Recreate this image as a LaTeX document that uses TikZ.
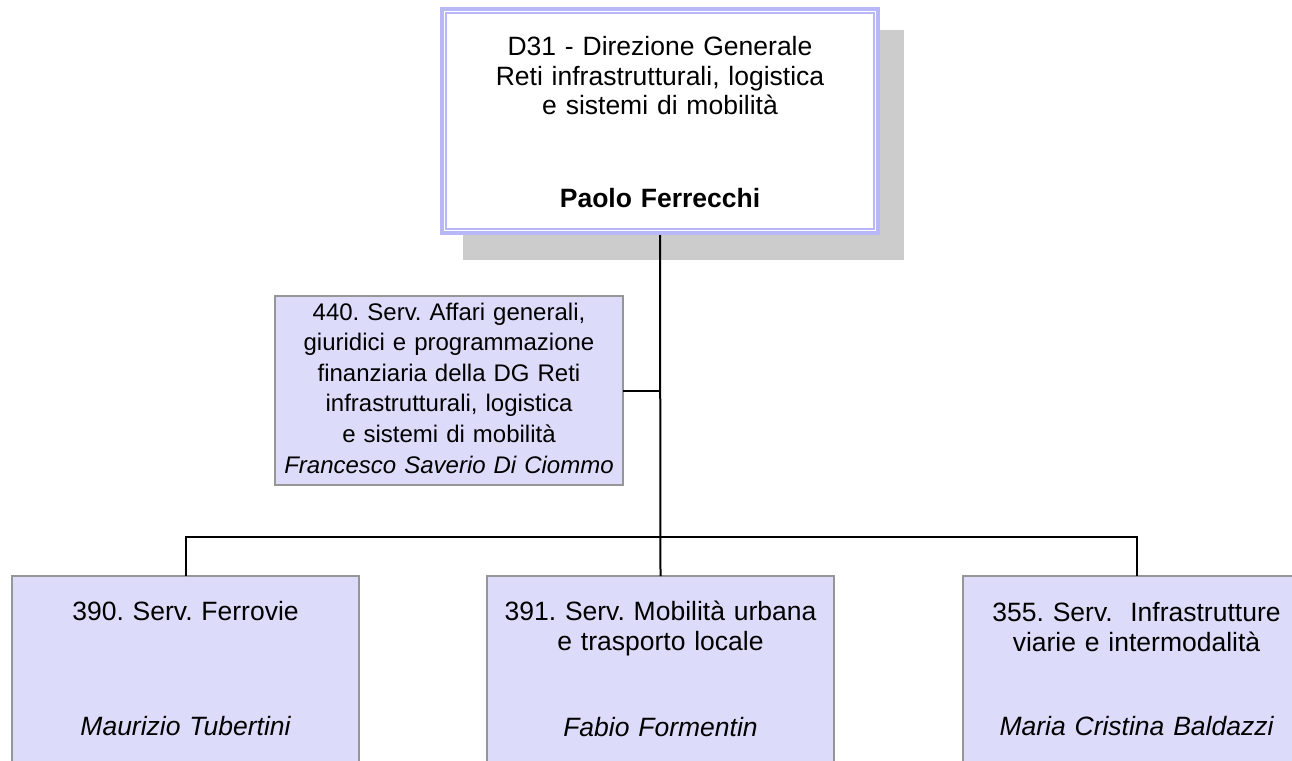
\documentclass[tikz,border=0pt]{standalone}
\usepackage{fontspec}
\setmainfont{Liberation Sans}
\frenchspacing
\definecolor{lav}{RGB}{184,184,248}
\definecolor{boxfill}{RGB}{220,220,250}
\definecolor{boxline}{RGB}{150,150,150}
\definecolor{shadowgray}{RGB}{204,204,204}
\begin{document}
\begin{tikzpicture}[x=1pt,y=-1pt,
  unit/.style={draw=boxline, line width=1.5pt, fill=boxfill, outer sep=0pt, inner sep=0pt},
  bottomunit/.style={unit, minimum width=347pt, minimum height=250pt, anchor=north},
  conn/.style={line width=2pt, draw=black},
  bigtxt/.style={font=\fontsize{26.5}{29.5}\selectfont\frenchspacing, text width=420pt, align=center, anchor=base, inner sep=0pt},
  bottomtxt/.style={bigtxt, font=\fontsize{26.5}{30.5}\selectfont\frenchspacing},
  bigname/.style={bigtxt, font=\fontsize{26.5}{29.5}\selectfont\itshape},
  smalltxt/.style={font=\fontsize{24}{30.6}\selectfont\frenchspacing, text width=346pt, align=center, anchor=base, inner sep=0pt}
]
\useasboundingbox (0,0) rectangle (1292,760);
% shadow of the top box
\fill[shadowgray] (463,30) rectangle (904,260);
% top box
\node[draw=lav, line width=4pt, fill=white, minimum width=436pt, minimum height=224pt, outer sep=2pt, inner sep=0pt] (top) at (660,121) {};
\draw[lav, line width=2pt] ([shift={(6.3,6.3)}]top.north west) rectangle ([shift={(-6.3,-6.3)}]top.south east);
\node[bigtxt] (ttop) at (660,56) {D31 - Direzione Generale\\Reti infrastrutturali, logistica\\e sistemi di mobilità};
\node[bigtxt, font=\fontsize{26.5}{29.5}\selectfont\bfseries] (ntop) at (660,207) {Paolo Ferrecchi};
% staff box
\node[unit, minimum width=348pt, minimum height=189pt] (b440) at (449,390.5) {};
\node[smalltxt] (t440) at (449,320) {440. Serv. Affari generali,\\giuridici e programmazione\\finanziaria della DG Reti\\infrastrutturali, logistica\\e sistemi di mobilità\\\textit{Francesco Saverio Di Ciommo}};
% bottom boxes
\node[bottomunit] (b390) at (185.5,576) {};
\node[bottomunit] (b391) at (660.5,576) {};
\node[bottomunit] (b355) at (1136.5,576) {};
\node[bottomtxt] (t390) at (185.5,620) {390. Serv. Ferrovie};
\node[bottomtxt] (t391) at (660.5,620) {391. Serv. Mobilità urbana\\e trasporto locale};
\node[bottomtxt] (t355) at (1136.5,621) {355. Serv.~~Infrastrutture\\viarie e intermodalità};
\node[bigname] (n390) at (185.5,735) {Maurizio Tubertini};
\node[bigname] (n391) at (660.5,736) {Fabio Formentin};
\node[bigname] (n355) at (1136.5,735) {Maria Cristina Baldazzi};
% connectors
\coordinate (busL) at (185.5,537);
\draw[conn] (top.south) -- (b391.north);
\draw[conn] (b440.east) -- (b440.east -| top.south);
\draw[conn] (b390.north) -- (busL) -| (b355.north);
\end{tikzpicture}
\end{document}
